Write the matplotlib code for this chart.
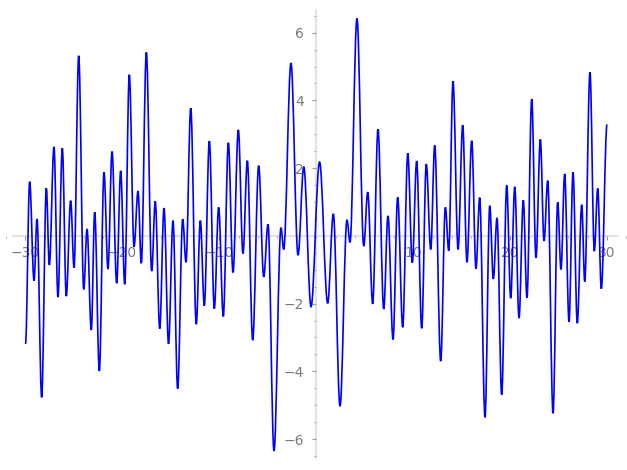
import matplotlib
matplotlib.use("Agg")
from matplotlib import pyplot as plt
from matplotlib.path import Path
from matplotlib.patches import PathPatch
from matplotlib.ticker import MultipleLocator

# turning points of the curve (start, extrema, end)
xs = [-30.0, -29.57, -29.12, -28.81, -28.33, -27.85, -27.54, -27.06, -26.65, -26.20,
      -25.79, -25.34, -24.99, -24.51, -23.99, -23.65, -23.21, -22.86, -22.38, -21.90,
      -21.49, -21.07, -20.59, -20.18, -19.76, -19.29, -18.80, -18.39, -18.05, -17.53,
      -16.98, -16.61, -16.15, -15.71, -15.24, -14.78, -14.30, -13.78, -13.44, -12.95,
      -12.38, -11.96, -11.55, -11.03, -10.52, -10.07, -9.59, -9.07, -8.59, -8.04,
      -7.56, -7.11, -6.56, -5.94, -5.42, -4.98, -4.36, -3.64, -3.36, -2.61,
      -1.88, -1.29, -0.54, 0.34, 1.18, 1.76, 2.45, 3.17, 3.48, 4.20,
      4.90, 5.31, 5.82, 6.37, 6.96, 7.40, 7.92, 8.40, 8.92, 9.44,
      9.91, 10.36, 10.88, 11.35, 11.81, 12.22, 12.84, 13.32, 13.67, 14.11,
      14.63, 15.11, 15.55, 16.04, 16.48, 16.86, 17.41, 17.90, 18.27, 18.65,
      19.13, 19.65, 20.06, 20.48, 20.92, 21.36, 21.74, 22.23, 22.67, 23.12,
      23.50, 23.88, 24.43, 24.91, 25.25, 25.63, 26.08, 26.49, 26.93, 27.39,
      27.70, 28.24, 28.69, 29.04, 29.41, 30.0]
ys = [-3.19, 1.60, -1.32, 0.50, -4.77, 1.41, -0.86, 2.63, -1.81, 2.59,
      -1.78, 1.04, -0.94, 5.32, -1.58, 0.20, -2.78, 0.70, -3.99, 1.88,
      -0.98, 2.49, -1.40, 1.92, -1.43, 4.76, -0.32, 1.32, -0.81, 5.42,
      -1.04, 1.02, -2.74, 0.82, -3.19, 0.45, -4.51, 0.49, -0.78, 3.77,
      -2.61, 0.45, -2.06, 2.80, -2.15, 0.84, -2.38, 2.75, -1.08, 3.13,
      -0.52, 2.22, -3.08, 2.07, -1.21, 0.34, -6.35, 0.24, -0.40, 5.10,
      -0.57, 2.04, -2.09, 2.18, -1.99, 0.65, -5.03, 0.47, -0.19, 6.42,
      -0.30, 1.29, -2.01, 3.15, -2.16, 0.59, -3.06, 1.14, -2.70, 2.44,
      -0.79, 2.21, -2.73, 2.12, -0.40, 2.67, -3.70, 0.84, -0.44, 4.57,
      -0.40, 3.27, -0.78, 2.81, -0.97, 1.13, -5.36, 0.89, -1.27, 0.53,
      -4.69, 1.49, -1.84, 1.45, -2.43, 1.05, -1.83, 4.04, -0.65, 2.85,
      -0.15, 1.63, -5.24, 0.99, -0.99, 1.83, -2.54, 1.88, -2.58, 0.92,
      -1.35, 4.83, -0.45, 1.40, -1.56, 3.29]

xticks = [-30, -20, -10, 10, 20, 30]
yticks = [-6, -4, -2, 2, 4, 6]

fig = plt.figure(figsize=(6.27, 4.70), dpi=100)
ax = fig.add_axes([0, 0, 1, 1])
ax.set_xlim(-32.63, 32.06)
ax.set_ylim(-6.915, 6.966)

# smooth curve: cubic bezier pieces with flat tangents at each turning point
k = 0.364
verts = [(xs[0], ys[0])]
codes = [Path.MOVETO]
for i in range(1, len(xs)):
    dx = xs[i] - xs[i - 1]
    verts += [(xs[i - 1] + k * dx, ys[i - 1]), (xs[i] - k * dx, ys[i]), (xs[i], ys[i])]
    codes += [Path.CURVE4] * 3
ax.add_patch(PathPatch(Path(verts, codes), facecolor='none', edgecolor='#0000ff',
                       lw=1.2, zorder=3, transform=ax.transData))

for s in ['top', 'right']:
    ax.spines[s].set_visible(False)
ax.spines['left'].set_position(('data', 0))
ax.spines['bottom'].set_position(('data', 0))
ax.spines['left'].set_bounds(-6.56, 6.67)
ax.spines['bottom'].set_bounds(-31.3, 31.05)
for s in ['left', 'bottom']:
    ax.spines[s].set_color('#e3e3e3')
    ax.spines[s].set_linewidth(1.5)
    ax.spines[s].set_zorder(1)

ax.set_xticks(xticks)
ax.set_yticks(yticks)
ax.xaxis.set_minor_locator(MultipleLocator(2))
ax.yaxis.set_minor_locator(MultipleLocator(0.5))
ax.tick_params(which='major', length=3, width=0.8, color='#999999',
               labelcolor='#7a7a7a', labelsize=10)
ax.tick_params(which='minor', length=1.5, width=0.6, color='#999999')
ax.tick_params(axis='x', which='major', pad=4)
ax.tick_params(axis='y', which='major', pad=6)
ax.patch.set_visible(False)

plt.savefig('out.png', dpi=100)
